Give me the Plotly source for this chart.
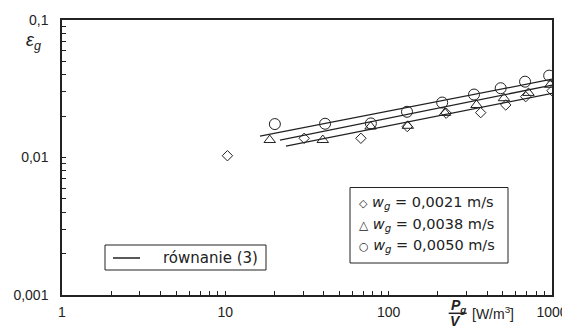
import plotly.graph_objects as go

# ---- data ----
series_names = ["0,0021 m/s", "0,0038 m/s", "0,0050 m/s"]
series_symbols = ["diamond-open", "triangle-up-open", "circle-open"]
legend_glyphs = ["◇", "△", "○"]

x_w0021 = [10.3, 30.4, 67.6, 130, 225, 366, 521, 690, 1000]
y_w0021 = [0.0103, 0.0138, 0.0138, 0.0168, 0.0210, 0.0212, 0.0241, 0.0277, 0.0306]

x_w0038 = [18.7, 39.5, 77.5, 131, 221, 345, 508, 718, 975]
y_w0038 = [0.0134, 0.0134, 0.0168, 0.0170, 0.0211, 0.0241, 0.0270, 0.0295, 0.0338]

x_w0050 = [20.1, 40.8, 77.8, 129.5, 212.6, 333, 485, 684, 961]
y_w0050 = [0.0175, 0.0176, 0.0177, 0.0215, 0.0251, 0.0287, 0.0319, 0.0356, 0.0394]

# equation (3) lines: endpoints per series
fit_x_start = [23.5, 21.6, 16.3]
fit_x_end = [1000, 1000, 1000]
fit_y_start = [0.0121, 0.0134, 0.0143]
fit_y_end = [0.0293, 0.0336, 0.0371]

x_tick_vals = [1, 10, 100, 1000]
x_tick_text = ["1", "10", "100", "1000"]
y_tick_vals = [0.001, 0.01, 0.1]
y_tick_text = ["0,001", "0,01", "0,1"]

# ---- figure ----
FONT = "Liberation Sans, Arial, sans-serif"
LFONT = "DejaVu Sans, sans-serif"
INK = "#222222"

# page body has an 8px margin; plot area targets page pixels 62..552 x 20..295
OFF = 8
L, R, T, B = 62 - OFF, 18, 20 - OFF, 41
W, H = 570 - OFF, 336 - OFF
PW, PH = W - L - R, H - T - B


def px_x(px):
    return (px - OFF - L) / PW


def px_y(py):
    return (H - B - (py - OFF)) / PH


xs = [x_w0021, x_w0038, x_w0050]
ys = [y_w0021, y_w0038, y_w0050]

fig = go.Figure()

for i in range(3):
    fig.add_trace(go.Scatter(
        x=[fit_x_start[i], fit_x_end[i]], y=[fit_y_start[i], fit_y_end[i]],
        mode="lines", line=dict(color=INK, width=1.3), showlegend=False,
        hoverinfo="skip"))

marker_sizes = [8, 10, 11]
for i in range(3):
    fig.add_trace(go.Scatter(
        x=xs[i], y=ys[i], mode="markers", name=series_names[i],
        marker=dict(symbol=series_symbols[i], size=marker_sizes[i],
                    color=INK, line=dict(color=INK, width=1)),
        showlegend=False))


def minor_vals(lo_exp, hi_exp):
    vals = []
    for e in range(lo_exp, hi_exp):
        for m in range(1, 10):
            vals.append(m * 10 ** e)
    vals.append(10 ** hi_exp)
    return vals


xv = minor_vals(0, 3)
xt = [x_tick_text[x_tick_vals.index(v)] if v in x_tick_vals else "" for v in xv]
yv = [round(v, 6) for v in minor_vals(-3, -1)]
yk = [round(t, 6) for t in y_tick_vals]
yt = [y_tick_text[yk.index(v)] if v in yk else "" for v in yv]

fig.update_layout(
    width=W, height=H,
    margin=dict(l=L, r=R, t=T, b=B, autoexpand=False),
    paper_bgcolor="white", plot_bgcolor="white",
    font=dict(family=FONT, size=14, color=INK),
    showlegend=False,
)
fig.update_xaxes(
    type="log", range=[0, 3], tickvals=xv, ticktext=xt, automargin=False,
    ticks="inside", ticklen=4, tickwidth=1, tickcolor=INK,
    showline=True, linecolor=INK, linewidth=1.5, mirror=True,
    showgrid=False, zeroline=False, ticklabelstandoff=3,
    tickfont=dict(size=14, family=FONT, color=INK),
)
fig.update_yaxes(
    type="log", range=[-3, -1], tickvals=yv, ticktext=yt, automargin=False,
    ticks="inside", ticklen=4, tickwidth=1, tickcolor=INK,
    showline=True, linecolor=INK, linewidth=1.5, mirror=True,
    showgrid=False, zeroline=False, ticklabelstandoff=9,
    tickfont=dict(size=14, family=FONT, color=INK),
)

# legend box for the symbols
fig.add_shape(type="rect", xref="paper", yref="paper",
              x0=px_x(350), x1=px_x(508), y0=px_y(263), y1=px_y(187.5),
              line=dict(color=INK, width=1), fillcolor="white", layer="above")
row_px = [203, 224.5, 246]
glyph_sizes = [11, 12, 11]
for i in range(3):
    fig.add_annotation(
        xref="paper", yref="paper", x=px_x(357), y=px_y(row_px[i]),
        xanchor="left", yanchor="middle", showarrow=False,
        text=(f"<span style='font-size:{glyph_sizes[i]}px'>{legend_glyphs[i]}</span>"
              f" <i>w<sub>g</sub></i> = {series_names[i]}"),
        font=dict(size=14.5, family=LFONT, color=INK))

# legend box for the equation
fig.add_shape(type="rect", xref="paper", yref="paper",
              x0=px_x(105), x1=px_x(266), y0=px_y(270), y1=px_y(245),
              line=dict(color=INK, width=1), fillcolor="white", layer="above")
fig.add_shape(type="line", xref="paper", yref="paper",
              x0=px_x(113), x1=px_x(140), y0=px_y(258), y1=px_y(258),
              line=dict(color=INK, width=1.5), layer="above")
fig.add_annotation(xref="paper", yref="paper", x=px_x(161), y=px_y(258),
                   xanchor="left", yanchor="middle", showarrow=False,
                   text="równanie (3)", font=dict(size=15, family=LFONT, color=INK))

# y axis title
fig.add_annotation(xref="paper", yref="paper", x=px_x(33), y=px_y(42),
                   xanchor="center", yanchor="middle", showarrow=False,
                   text="<i>ε<sub>g</sub></i>", font=dict(size=18, family=FONT, color=INK))

# x axis title (fraction)
fig.add_annotation(xref="paper", yref="paper", x=px_x(458), y=px_y(306),
                   xanchor="center", yanchor="middle", showarrow=False,
                   text="<b><i>P<sub>g</sub></i></b>", font=dict(size=14, family=FONT, color=INK))
fig.add_shape(type="line", xref="paper", yref="paper",
              x0=px_x(448.7), x1=px_x(466.7), y0=px_y(313.3), y1=px_y(313.3),
              line=dict(color=INK, width=1.5))
fig.add_annotation(xref="paper", yref="paper", x=px_x(455), y=px_y(321.3),
                   xanchor="center", yanchor="middle", showarrow=False,
                   text="<b><i>V</i></b>", font=dict(size=14, family=FONT, color=INK))
fig.add_annotation(xref="paper", yref="paper", x=px_x(470), y=px_y(313),
                   xanchor="left", yanchor="middle", showarrow=False,
                   text="[W/m<sup>3</sup>]", font=dict(size=14, family=FONT, color=INK))

fig.write_html("out.html")
